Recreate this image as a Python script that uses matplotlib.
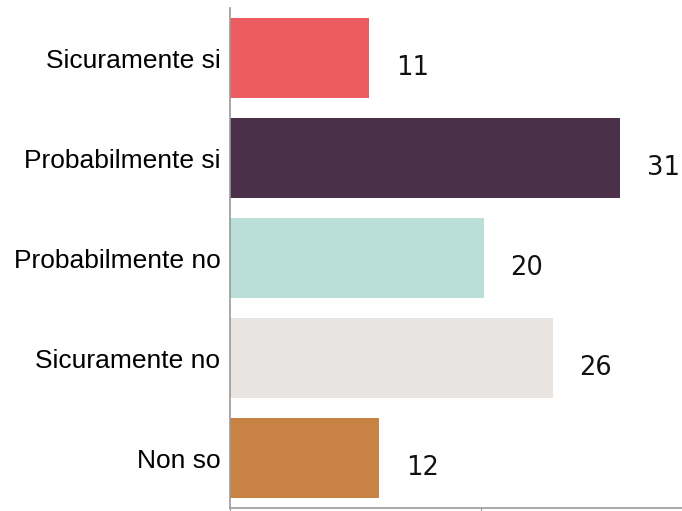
import matplotlib
matplotlib.use("Agg")
import matplotlib.pyplot as plt

categories = ["Sicuramente si", "Probabilmente si", "Probabilmente no", "Sicuramente no", "Non so"]
bar_values = [11.1, 31.1, 20.2, 25.7, 11.9]
labels = ["11", "31", "20", "26", "12"]
colors = ["#EB5D60", "#4B3049", "#B9DFD8", "#E8E4E1", "#C88244"]

fig = plt.figure(figsize=(6.82, 5.11), dpi=100)
ax = fig.add_axes([230/682, 3/511, 452/682, 500/511])
y = list(range(len(categories)))
ax.barh(y, bar_values, height=0.8, color=colors)
ax.set_ylim(len(categories) - 0.5, -0.5)
ax.set_xlim(0, 36)
ax.set_yticks(y)
ax.set_yticklabels(categories, family="Liberation Sans", fontsize=19)
ax.tick_params(axis="y", length=0, pad=7)
ax.set_xticks([0, 20])
ax.set_xticklabels([])
ax.tick_params(axis="x", length=6, color="#999999")
for s in ["top", "right"]:
    ax.spines[s].set_visible(False)
for s in ["left", "bottom"]:
    ax.spines[s].set_color("#999999")
    ax.spines[s].set_linewidth(1.2)
for yi, v, lab in zip(y, bar_values, labels):
    ax.annotate(lab, (v, yi), xytext=(19, -7), textcoords="offset points",
                ha="left", va="center", fontsize=18.5, family="DejaVu Sans", color="#111111")
fig.savefig("out.png", dpi=100)
